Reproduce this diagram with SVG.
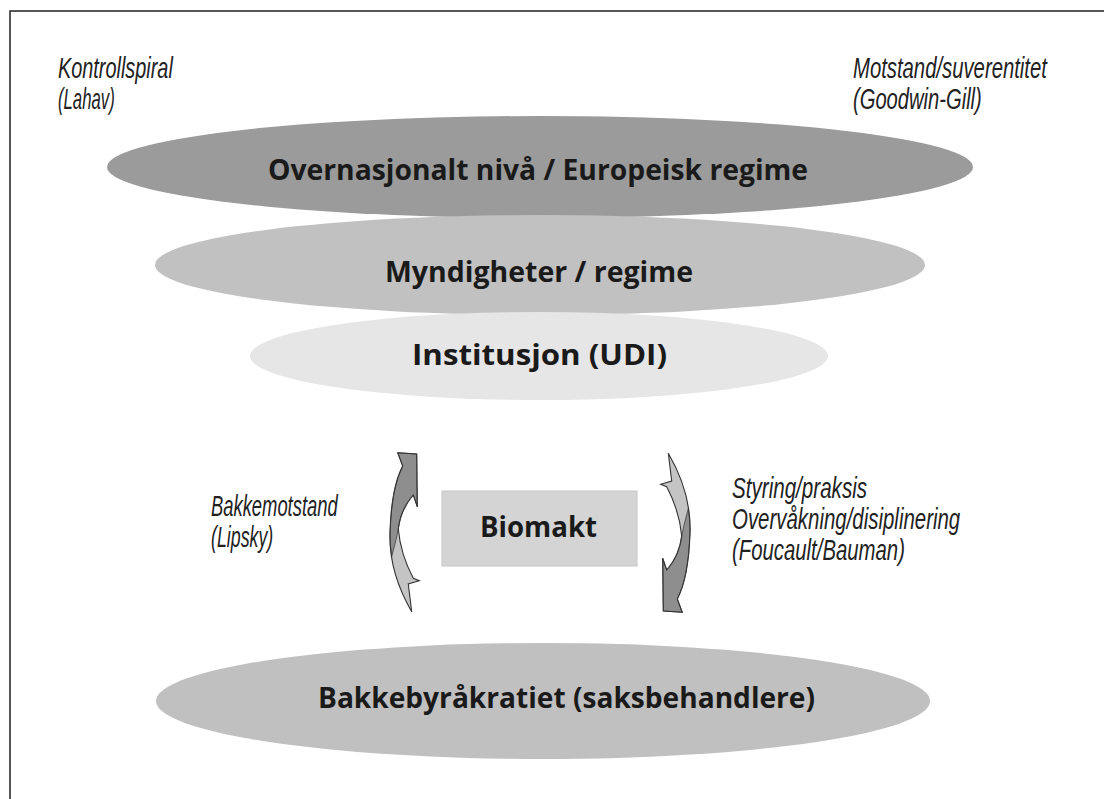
<svg xmlns="http://www.w3.org/2000/svg" width="1104" height="799" viewBox="0 0 1104 799">
<style>
.lbl{font-family:"Open Sans","Liberation Sans",sans-serif;font-weight:bold;font-size:28px;fill:#1a1a1a;text-anchor:start}
.it{font-family:"Liberation Sans",Arial,sans-serif;font-style:italic;font-size:29px;fill:#222}
.arrL{fill:#c4c4c4;stroke:none}
.arrD{fill:#8e8e8e;stroke:#444;stroke-width:0.8}
.arrO{fill:none;stroke:#333;stroke-width:1.1;stroke-linejoin:miter}
</style>
<defs>
<g id="curvedArrow">
<path class="arrL" d="M -6.8,-79.3 L 12.2,-78 L 12.8,-25.3 L 8.8,-37 Q -4,-22 -6.2,-3 Q -4,22 8.8,46.3 L 14.8,48.7 L 3.8,52 L 7.2,79.7 Q -16,40 -14.5,0 Q -13,-45 -1.8,-66 Z"/>
<path class="arrD" d="M -6.8,-79.3 L 12.2,-78 L 12.8,-25.3 L 8.8,-37 Q -1,-27 -4.5,-12 Q -8,8 -12.8,24.7 Q -14.7,12 -14.5,0 Q -13,-45 -1.8,-66 Z"/>
<path class="arrO" d="M -6.8,-79.3 L 12.2,-78 L 12.8,-25.3 L 8.8,-37 Q -4,-22 -6.2,-3 Q -4,22 8.8,46.3 L 14.8,48.7 L 3.8,52 L 7.2,79.7 Q -16,40 -14.5,0 Q -13,-45 -1.8,-66 Z"/>
</g>
</defs>
<rect x="0" y="0" width="1104" height="799" fill="#ffffff"/>
<path d="M 10,799 L 10,11 L 1104,11" fill="none" stroke="#222" stroke-width="1.5"/>

<g id="annotations">
<text class="it" transform="translate(58,78) scale(0.7,1)" textLength="164" lengthAdjust="spacingAndGlyphs">Kontrollspiral</text>
<text class="it" transform="translate(58,109) scale(0.7,1)" textLength="81" lengthAdjust="spacingAndGlyphs">(Lahav)</text>
<text class="it" transform="translate(853,78) scale(0.7,1)" textLength="277" lengthAdjust="spacingAndGlyphs">Motstand/suverentitet</text>
<text class="it" transform="translate(853,109) scale(0.7,1)" textLength="184" lengthAdjust="spacingAndGlyphs">(Goodwin-Gill)</text>
<text class="it" transform="translate(211,516) scale(0.7,1)" textLength="181" lengthAdjust="spacingAndGlyphs">Bakkemotstand</text>
<text class="it" transform="translate(211,547) scale(0.7,1)" textLength="89" lengthAdjust="spacingAndGlyphs">(Lipsky)</text>
<text class="it" transform="translate(732,498) scale(0.7,1)" textLength="193" lengthAdjust="spacingAndGlyphs">Styring/praksis</text>
<text class="it" transform="translate(732,529) scale(0.7,1)" textLength="326" lengthAdjust="spacingAndGlyphs">Overvåkning/disiplinering</text>
<text class="it" transform="translate(732,560) scale(0.7,1)" textLength="247" lengthAdjust="spacingAndGlyphs">(Foucault/Bauman)</text>
</g>

<g id="node-overnasjonalt">
<ellipse cx="540" cy="167" rx="433" ry="51" fill="#9a9b9a"/>
<text class="lbl" x="268" y="180" textLength="540" lengthAdjust="spacingAndGlyphs">Overnasjonalt nivå / Europeisk regime</text>
</g>
<g id="node-myndigheter">
<ellipse cx="540" cy="265" rx="385" ry="50" fill="#c1c1c1"/>
<text class="lbl" x="385" y="282" textLength="308" lengthAdjust="spacingAndGlyphs">Myndigheter / regime</text>
</g>
<g id="node-institusjon">
<ellipse cx="539" cy="356" rx="289" ry="44" fill="#e6e6e6"/>
<text class="lbl" x="412" y="365" textLength="255" lengthAdjust="spacingAndGlyphs">Institusjon (UDI)</text>
</g>
<g id="node-biomakt">
<rect x="442" y="491" width="195" height="75" fill="#d4d4d4" stroke="#c6c6c6" stroke-width="1"/>
<text class="lbl" x="480" y="537" textLength="117" lengthAdjust="spacingAndGlyphs">Biomakt</text>
</g>
<g id="node-bakkebyrakratiet">
<ellipse cx="543" cy="701" rx="387" ry="58" fill="#c0c0c0"/>
<text class="lbl" x="318" y="708" textLength="497" lengthAdjust="spacingAndGlyphs">Bakkebyråkratiet (saksbehandlere)</text>
</g>

<g id="connectors">
<use href="#curvedArrow" transform="translate(404.5,532)"/>
<use href="#curvedArrow" transform="translate(675.5,533) rotate(180)"/>
</g>
</svg>
